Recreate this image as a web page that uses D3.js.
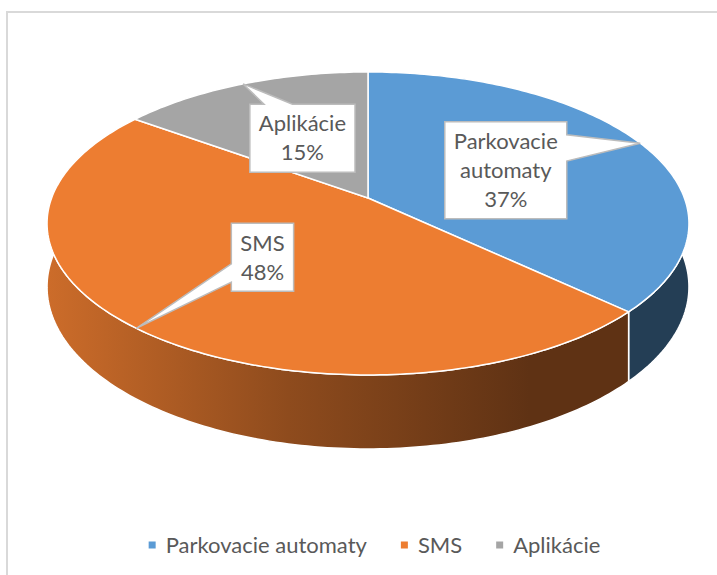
<!DOCTYPE html>
<html>
<head>
<meta charset="utf-8">
<script src="https://cdn.jsdelivr.net/npm/d3@7"></script>
<style>
  body { margin: 0; background: #fff; }
  svg { display: block; font-family: Lato, 'Open Sans', sans-serif; }
</style>
</head>
<body>
<script>
// chart data
const categories = ['Parkovacie automaty', 'SMS', 'Aplikácie'];
const values = [37, 48, 15];
const colors = ['#5B9BD5', '#ED7D31', '#A5A5A5'];

const width = 717;
const height = 575;

// tilted disc with a bit of perspective (front half looks bigger)
const cx = 368, cy = 198;
const rx = 316.4, ry = 147.2;
const persp = 0.168;
const depth = 61.6;

const project = (t, r = 1, drop = 0) => {
  const u = r * Math.sin(t);
  const v = -r * Math.cos(t);
  const s = 1 / (1 - persp * v);
  return [cx + rx * u * s, cy + ry * v * s + drop * s];
};

const arcPoints = (a0, a1, r, drop) => {
  const n = Math.max(2, Math.ceil((a1 - a0) / (Math.PI / 180)));
  return d3.range(n + 1).map((i) => project(a0 + (a1 - a0) * i / n, r, drop));
};

const shade = (c, f) => {
  const rgb = d3.rgb(c);
  return d3.rgb(rgb.r * f, rgb.g * f, rgb.b * f).formatHex();
};

const svg = d3.select('body')
  .append('svg')
  .attr('width', width)
  .attr('height', height);

// chart frame
svg.append('rect')
  .attr('x', 7)
  .attr('y', 12)
  .attr('width', 900)
  .attr('height', 900)
  .attr('fill', 'none')
  .attr('stroke', '#d9d9d9')
  .attr('stroke-width', 2);

const pie = d3.pie().sort(null).value((d) => d);
const slices = pie(values);
const total = d3.sum(values);
const pct = d3.format('.0%');
const line = d3.line().curve(d3.curveLinearClosed);

// side shading, lit from the left
const defs = svg.append('defs');
colors.forEach((c, i) => {
  const g = defs.append('linearGradient')
    .attr('id', 'side' + i)
    .attr('gradientUnits', 'userSpaceOnUse')
    .attr('x1', 48).attr('x2', 530)
    .attr('y1', 0).attr('y2', 0);
  g.append('stop').attr('offset', 0).attr('stop-color', shade(c, 0.86));
  g.append('stop').attr('offset', 0.5).attr('stop-color', shade(c, 0.6));
  g.append('stop').attr('offset', 1).attr('stop-color', shade(c, 0.4));
});

// outer walls
svg.append('g')
  .selectAll('path')
  .data(slices)
  .enter()
  .append('path')
  .attr('d', (d) => {
    const top = arcPoints(d.startAngle, d.endAngle, 1, 0);
    const bottom = arcPoints(d.startAngle, d.endAngle, 1, depth).reverse();
    return line(top.concat(bottom));
  })
  .attr('fill', (d, i) => 'url(#side' + i + ')')
  .attr('stroke', '#fff')
  .attr('stroke-width', 1.5)
  .attr('stroke-linejoin', 'round');

// top faces
svg.append('g')
  .selectAll('path')
  .data(slices)
  .enter()
  .append('path')
  .attr('d', (d) => line([project(0, 0)].concat(arcPoints(d.startAngle, d.endAngle, 1, 0))))
  .attr('fill', (d, i) => colors[i])
  .attr('stroke', '#fff')
  .attr('stroke-width', 1.5)
  .attr('stroke-linejoin', 'round');

// data callouts
const lineH = 29;
const pad = 9;

const calloutPath = (x0, y0, x1, y1, tip) => {
  const w = x1 - x0, h = y1 - y0;
  const dx = tip[0] < x0 ? x0 - tip[0] : (tip[0] > x1 ? tip[0] - x1 : 0);
  const dy = tip[1] < y0 ? y0 - tip[1] : (tip[1] > y1 ? tip[1] - y1 : 0);
  let side;
  if (dx >= dy) side = tip[0] < x0 ? 'left' : 'right';
  else side = tip[1] < y0 ? 'top' : 'bottom';
  const horiz = side === 'top' || side === 'bottom';
  const len = horiz ? w : h;
  const start = horiz ? x0 : y0;
  const bw = len * 0.27;
  const c = Math.max(start + len * 0.27, Math.min(start + len * 0.73, horiz ? tip[0] : tip[1]));
  const pts = [[x0, y0]];
  if (side === 'top') pts.push([c - bw / 2, y0], tip, [c + bw / 2, y0]);
  pts.push([x1, y0]);
  if (side === 'right') pts.push([x1, c - bw / 2], tip, [x1, c + bw / 2]);
  pts.push([x1, y1]);
  if (side === 'bottom') pts.push([c + bw / 2, y1], tip, [c - bw / 2, y1]);
  pts.push([x0, y1]);
  if (side === 'left') pts.push([x0, c + bw / 2], tip, [x0, c - bw / 2]);
  return line(pts);
};

const labels = svg.append('g')
  .selectAll('g')
  .data(slices)
  .enter()
  .append('g');

labels.each(function(d, i) {
  const g = d3.select(this);
  const mid = (d.startAngle + d.endAngle) / 2;
  const tip = project(mid, 1);
  const center = project(mid, 0.49);
  const lines = categories[i].split(' ').concat([pct(d.value / total)]);

  const box = g.append('path');
  const texts = g.selectAll('text')
    .data(lines)
    .enter()
    .append('text')
    .attr('x', center[0])
    .attr('y', (l, j) => center[1] + (j - (lines.length - 1) / 2) * lineH)
    .attr('dy', '0.35em')
    .attr('text-anchor', 'middle')
    .attr('font-size', 22)
    .attr('fill', '#595959')
    .text((l) => l);

  const tw = d3.max(texts.nodes(), (n) => n.getComputedTextLength());
  const bw = tw + pad * 2;
  const bh = lines.length * lineH + 10;
  box.attr('d', calloutPath(center[0] - bw / 2, center[1] - bh / 2, center[0] + bw / 2, center[1] + bh / 2, tip))
    .attr('fill', '#fff')
    .attr('stroke', '#bcbcbc')
    .attr('stroke-width', 1.5)
    .attr('stroke-linejoin', 'miter');
});

// legend
const legend = svg.append('g');
const legendY = 545;
let lx = 0;
categories.forEach((name, i) => {
  const item = legend.append('g').attr('transform', 'translate(' + lx + ',0)');
  item.append('rect')
    .attr('x', 0)
    .attr('y', legendY - 3.5)
    .attr('width', 7)
    .attr('height', 7)
    .attr('fill', colors[i]);
  const t = item.append('text')
    .attr('x', 17)
    .attr('y', legendY)
    .attr('dy', '0.35em')
    .attr('font-size', 22)
    .attr('fill', '#595959')
    .text(name);
  lx += 17 + t.node().getComputedTextLength() + 34;
});
const legendW = lx - 34;
legend.attr('transform', 'translate(' + (374.5 - legendW / 2) + ',0)');
</script>
</body>
</html>
